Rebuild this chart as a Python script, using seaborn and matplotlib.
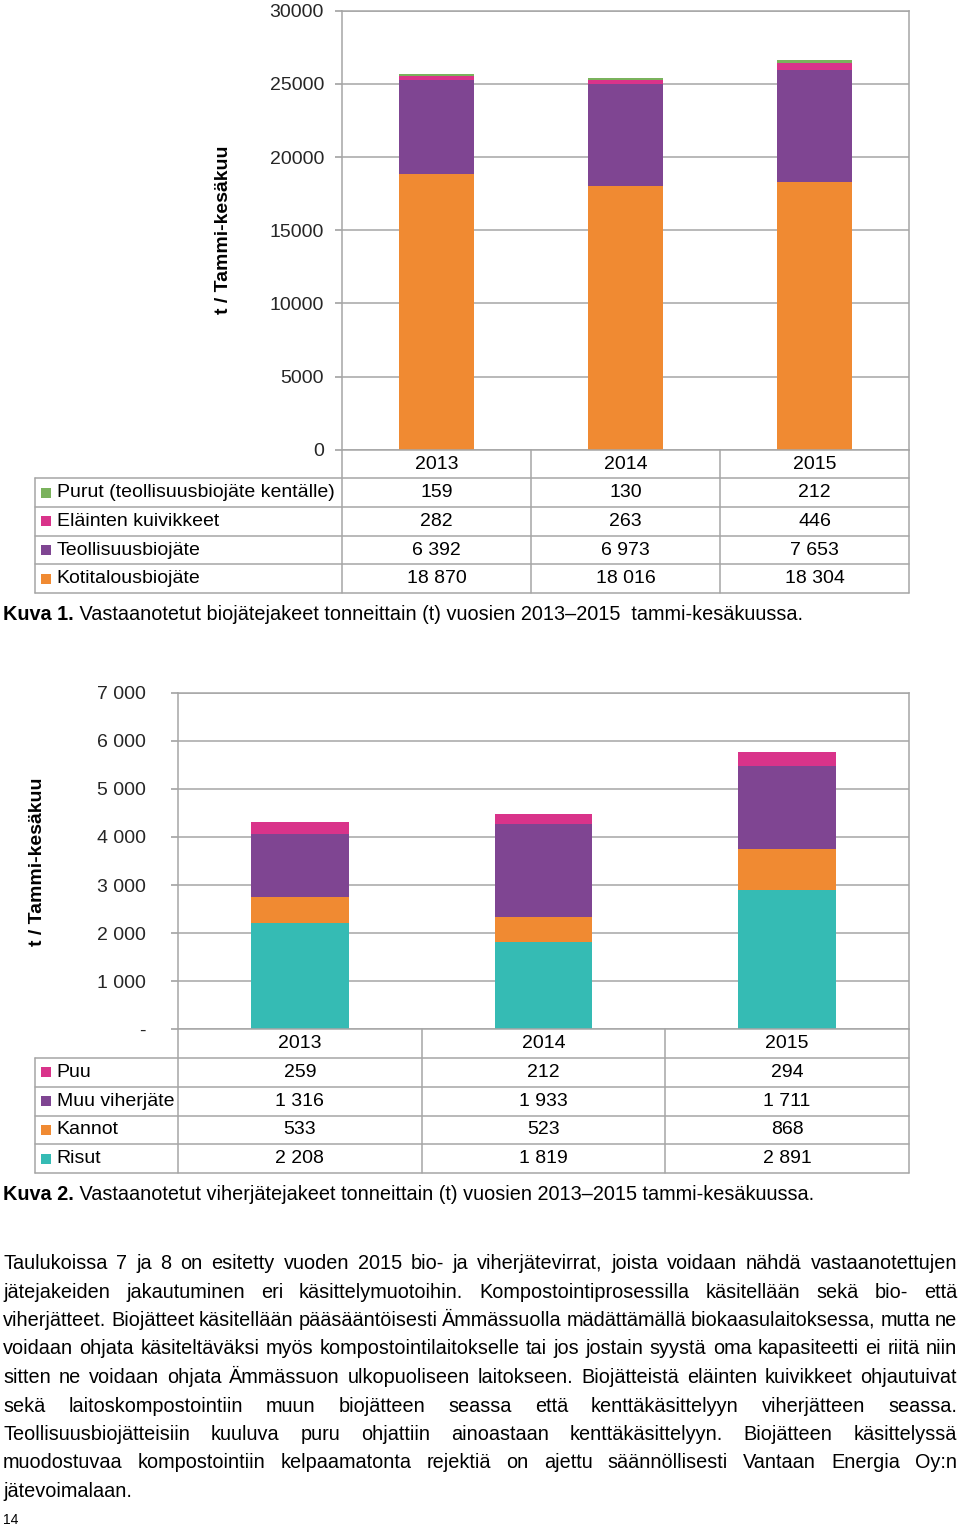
import matplotlib
matplotlib.use("Agg")
import matplotlib.pyplot as plt
import numpy as np
import pandas as pd
import seaborn as sns
from matplotlib.ticker import FuncFormatter, MultipleLocator

# ---- data ----
years = ["2013", "2014", "2015"]

# Kuva 1: biojätejakeet, stacked bottom -> top
bio_names = ["Kotitalousbiojäte", "Teollisuusbiojäte", "Eläinten kuivikkeet",
             "Purut (teollisuusbiojäte kentälle)"]
kotitalous = [18870, 18016, 18304]
teollisuus = [6392, 6973, 7653]
elainten = [282, 263, 446]
purut = [159, 130, 212]
bio_colors = ["#F08A32", "#7F4592", "#D9338A", "#7AB25C"]

# Kuva 2: viherjätejakeet, stacked bottom -> top
viher_names = ["Risut", "Kannot", "Muu viherjäte", "Puu"]
risut = [2208, 1819, 2891]
kannot = [533, 523, 868]
muu_viher = [1316, 1933, 1711]
puu = [259, 212, 294]
viher_colors = ["#35BBB4", "#F08A32", "#7F4592", "#D9338A"]

caption1 = ("Kuva 1.", " Vastaanotetut biojätejakeet tonneittain (t) vuosien 2013–2015  tammi-kesäkuussa.")
caption2 = ("Kuva 2.", " Vastaanotetut viherjätejakeet tonneittain (t) vuosien 2013–2015 tammi-kesäkuussa.")
paragraph = [
    "Taulukoissa 7 ja 8 on esitetty vuoden 2015 bio- ja viherjätevirrat, joista voidaan nähdä vastaanotettujen",
    "jätejakeiden jakautuminen eri käsittelymuotoihin. Kompostointiprosessilla käsitellään sekä bio- että",
    "viherjätteet. Biojätteet käsitellään pääsääntöisesti Ämmässuolla mädättämällä biokaasulaitoksessa, mutta ne",
    "voidaan ohjata käsiteltäväksi myös kompostointilaitokselle tai jos jostain syystä oma kapasiteetti ei riitä niin",
    "sitten ne voidaan ohjata Ämmässuon ulkopuoliseen laitokseen. Biojätteistä eläinten kuivikkeet ohjautuivat",
    "sekä laitoskompostointiin muun biojätteen seassa että kenttäkäsittelyyn viherjätteen seassa.",
    "Teollisuusbiojätteisiin kuuluva puru ohjattiin ainoastaan kenttäkäsittelyyn. Biojätteen käsittelyssä",
    "muodostuvaa kompostointiin kelpaamatonta rejektiä on ajettu säännöllisesti Vantaan Energia Oy:n",
    "jätevoimalaan.",
]

GRID = "#A6A6A6"
FS = 14
FS_TEXT = 14.3
W, H = 960, 1528

sns.set_theme(style="white")
plt.rcParams["font.family"] = ["Liberation Sans", "DejaVu Sans"]
plt.rcParams["text.color"] = "black"

fig = plt.figure(figsize=(W / 100, H / 100), dpi=100)


def box(x0, y0, x1, y1):
    # pixel box (top-left origin) -> figure fraction rect
    return [x0 / W, 1 - y1 / H, (x1 - x0) / W, (y1 - y0) / H]


def fmt_space(v):
    return f"{int(v):,}".replace(",", " ")


def stacked(ax, series, colors, ymax, step, fmt):
    cum = np.cumsum(np.array(series), axis=0)
    for k in range(len(series) - 1, -1, -1):
        df = pd.DataFrame({"year": years, "value": cum[k]})
        sns.barplot(data=df, x="year", y="value", color=colors[k], width=0.4,
                    saturation=1, linewidth=0, errorbar=None, ax=ax)
    ax.set_xlim(-0.5, 2.5)
    ax.set_ylim(0, ymax)
    ax.yaxis.set_major_locator(MultipleLocator(step))
    ax.yaxis.set_major_formatter(FuncFormatter(fmt))
    ax.set_axisbelow(True)
    ax.yaxis.grid(True, color=GRID, lw=1.1)
    ax.set_xticks([])
    ax.set_xlabel("")
    ax.set_ylabel("")
    for s in ax.spines.values():
        s.set_color(GRID)
        s.set_linewidth(1.1)


def table(tax, rows, colors, left_units):
    left = -0.5 - left_units
    n = len(rows) + 1
    tax.set_xlim(left, 2.5)
    tax.set_ylim(n, 0)
    tax.axis("off")
    kw = dict(color=GRID, lw=1.1, clip_on=False)
    for x in [-0.5, 0.5, 1.5, 2.5]:
        tax.plot([x, x], [0, n], **kw)
    tax.plot([left, left], [1, n], **kw)
    for y in range(1, n + 1):
        tax.plot([left, 2.5], [y, y], **kw)
    for i, yr in enumerate(years):
        tax.text(i, 0.5, yr, ha="center", va="center", fontsize=FS)
    for r, ((name, vals), c) in enumerate(zip(rows, colors)):
        yc = r + 1.5
        tax.scatter([0.013], [yc], transform=tax.get_yaxis_transform(), marker="s",
                    s=48, color=c, linewidths=0, clip_on=False)
        tax.text(0.025, yc, name, transform=tax.get_yaxis_transform(),
                 ha="left", va="center", fontsize=FS)
        for i, v in enumerate(vals):
            tax.text(i, yc, fmt_space(v), ha="center", va="center", fontsize=FS)


# ---- Kuva 1 ----
ax1 = fig.add_axes(box(342, 10.7, 909, 449.7))
stacked(ax1, [kotitalous, teollisuus, elainten, purut], bio_colors, 30000, 5000,
        lambda v, p: f"{int(v)}")
ax1.tick_params(axis="y", left=True, length=5, color=GRID, pad=8.0, labelsize=FS)
fig.text(223 / W, 1 - 230 / H, "t / Tammi-kesäkuu", rotation=90, ha="center",
         va="center", fontsize=FS, fontweight="bold")

tax1 = fig.add_axes(box(35, 449.7, 909, 593))
rows1 = list(zip(bio_names, [kotitalous, teollisuus, elainten, purut]))[::-1]
table(tax1, rows1, bio_colors[::-1], (342 - 35) / 189)

# ---- Kuva 2 ----
ax2 = fig.add_axes(box(178, 692.7, 909, 1029.3))
stacked(ax2, [risut, kannot, muu_viher, puu], viher_colors, 7000, 1000,
        lambda v, p: "-" if v == 0 else fmt_space(v))
ax2.tick_params(axis="y", left=True, length=5, color=GRID, pad=18.0, labelsize=FS)
fig.text(38 / W, 1 - 862 / H, "t / Tammi-kesäkuu", rotation=90, ha="center",
         va="center", fontsize=FS, fontweight="bold")

tax2 = fig.add_axes(box(35, 1029.3, 909, 1173))
rows2 = list(zip(viher_names, [risut, kannot, muu_viher, puu]))[::-1]
table(tax2, rows2, viher_colors[::-1], (178 - 35) / 243.7)

# ---- captions and body text ----
renderer = fig.canvas.get_renderer()


def caption(parts, y_base):
    t1 = fig.text(3 / W, 1 - y_base / H, parts[0], fontsize=FS_TEXT, fontweight="bold",
                  va="baseline", ha="left")
    x1 = t1.get_window_extent(renderer).x1
    fig.text(x1 / W, 1 - y_base / H, parts[1], fontsize=FS_TEXT, va="baseline", ha="left")


caption(caption1, 620)
caption(caption2, 1200)

x_left, x_right = 3, 957
for k, line in enumerate(paragraph):
    y = 1 - (1269 + k * 28.5) / H
    words = line.split(" ")
    texts = [fig.text(0, y, w, fontsize=FS_TEXT, va="baseline", ha="left") for w in words]
    widths = [t.get_window_extent(renderer).width for t in texts]
    last = k == len(paragraph) - 1
    gap = 5.4 if last or len(words) < 2 else (x_right - x_left - sum(widths)) / (len(words) - 1)
    x = x_left
    for t, w in zip(texts, widths):
        t.set_x(x / W)
        x += w + gap

fig.text(3 / W, 1 - 1524 / H, "14", fontsize=10, va="baseline", ha="left")

fig.savefig("out.png", dpi=100, facecolor="white")
